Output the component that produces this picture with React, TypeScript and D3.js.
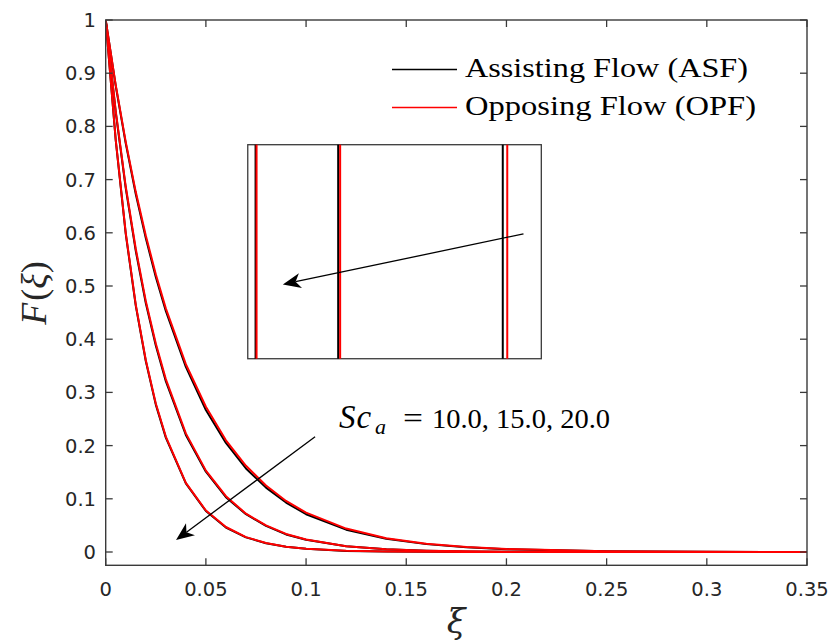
import React from "react";
import * as d3 from "d3";

const xiGrid = [0, 0.005, 0.01, 0.015, 0.02, 0.025, 0.03, 0.04, 0.05, 0.06, 0.07, 0.08, 0.09, 0.1, 0.12, 0.14, 0.16, 0.18, 0.2, 0.25, 0.3, 0.35];

// Sc_a = 10.0
const opf10 = [1, 0.878, 0.771, 0.677, 0.595, 0.522, 0.458, 0.353, 0.273, 0.21, 0.162, 0.125, 0.096, 0.074, 0.044, 0.026, 0.0156, 0.0093, 0.0055, 0.0015, 0.0004, 0.0001];
const asf10 = [1, 0.876, 0.768, 0.673, 0.59, 0.517, 0.453, 0.348, 0.267, 0.205, 0.157, 0.121, 0.093, 0.071, 0.042, 0.025, 0.0148, 0.0088, 0.0052, 0.0014, 0.0004, 0.0001];
// Sc_a = 15.0
const opf15 = [1, 0.829, 0.687, 0.57, 0.472, 0.392, 0.325, 0.223, 0.153, 0.105, 0.072, 0.05, 0.034, 0.0235, 0.011, 0.0052, 0.0025, 0.0012, 0.0006, 0.0001, 0, 0];
const asf15 = [1, 0.827, 0.684, 0.566, 0.468, 0.388, 0.321, 0.22, 0.151, 0.103, 0.071, 0.049, 0.033, 0.023, 0.0107, 0.005, 0.0024, 0.0011, 0.0005, 0.0001, 0, 0];
// Sc_a = 20.0
const opf20 = [1, 0.775, 0.6, 0.465, 0.361, 0.279, 0.217, 0.13, 0.078, 0.047, 0.028, 0.017, 0.01, 0.006, 0.0022, 0.0008, 0.0003, 0.0001, 0, 0, 0, 0];
const asf20 = [1, 0.774, 0.598, 0.463, 0.359, 0.277, 0.215, 0.129, 0.077, 0.046, 0.0275, 0.0166, 0.0098, 0.0059, 0.0021, 0.0008, 0.0003, 0.0001, 0, 0, 0, 0];

const xTicks = [0, 0.05, 0.1, 0.15, 0.2, 0.25, 0.3, 0.35];
const xTickLabels = ["0", "0.05", "0.1", "0.15", "0.2", "0.25", "0.3", "0.35"];
const yTicks = [0, 0.1, 0.2, 0.3, 0.4, 0.5, 0.6, 0.7, 0.8, 0.9, 1];
const yTickLabels = ["0", "0.1", "0.2", "0.3", "0.4", "0.5", "0.6", "0.7", "0.8", "0.9", "1"];

const legendLabels = ["Assisting Flow (ASF)", "Opposing Flow (OPF)"];
const scValuesLabel = "10.0, 15.0, 20.0";

// inset (zoomed view) positions, normalised 0..1 across inset width
const insetASF = [0.0266, 0.308, 0.8687];
const insetOPF = [0.03, 0.3147, 0.884];
const insetBox = { x0: 0.0709, x1: 0.2174, y0: 0.3633, y1: 0.7656 };

// annotation arrows in data units [from, to]
const arrowSc = [[0.1045, 0.2167], [0.0351, 0.0226]];
const arrowInset = [[0.2085, 0.598], [0.0884, 0.503]];

const axisColor = "#3a3a3a";

function Arrow({ x1, y1, x2, y2 }: { x1: number; y1: number; x2: number; y2: number }) {
  const ang = Math.atan2(y2 - y1, x2 - x1);
  const L = 18, W = 7.5, back = 13;
  const c = Math.cos(ang), s = Math.sin(ang);
  const pt = (a: number, b: number) => [x2 - a * c - b * -s, y2 - a * s - b * c];
  const p1 = pt(L, W);
  const p2 = pt(back, 0);
  const p3 = pt(L, -W);
  const lineEnd = pt(back, 0);
  return (
    <g>
      <line x1={x1} y1={y1} x2={lineEnd[0]} y2={lineEnd[1]} stroke="#000" strokeWidth={1.3} />
      <path d={`M${x2},${y2}L${p1[0]},${p1[1]}L${p2[0]},${p2[1]}L${p3[0]},${p3[1]}Z`} fill="#000" />
    </g>
  );
}

export default function App() {
  const W = 832, H = 644;
  const x = d3.scaleLinear().domain([0, 0.35]).range([105.7, 807]);
  const y = d3.scaleLinear().domain([-0.025, 1]).range([565.3, 20]);
  const line = d3
    .line<[number, number]>()
    .x((d) => x(d[0]))
    .y((d) => y(d[1]));
  const mk = (vals: number[]) => line(xiGrid.map((g, i) => [g, vals[i]] as [number, number])) || "";

  const series = [
    { v: asf10, c: "#000" },
    { v: asf15, c: "#000" },
    { v: asf20, c: "#000" },
    { v: opf10, c: "#ff0000" },
    { v: opf15, c: "#ff0000" },
    { v: opf20, c: "#ff0000" },
  ];

  const bx0 = x(insetBox.x0), bx1 = x(insetBox.x1), by0 = y(insetBox.y1), by1 = y(insetBox.y0);
  const ix = d3.scaleLinear().domain([0, 1]).range([bx0, bx1]);

  const tickLen = 7;
  const left = x(0), right = x(0.35), top = y(1), bottom = y(-0.025);

  return (
    <svg width={W} height={H} style={{ position: "absolute", left: 0, top: 0, background: "#fff" }}>
      <defs>
        <clipPath id="plotclip">
          <rect x={left} y={top} width={right - left} height={bottom - top} />
        </clipPath>
      </defs>
      <rect x={0} y={0} width={W} height={H} fill="#fff" />
      <g clipPath="url(#plotclip)">
        {series.map((s, i) => (
          <path key={i} d={mk(s.v)} fill="none" stroke={s.c} strokeWidth={2} strokeLinejoin="round" />
        ))}
      </g>
      {/* axes box */}
      <rect x={left} y={top} width={right - left} height={bottom - top} fill="none" stroke={axisColor} strokeWidth={1.4} />
      {xTicks.map((t, i) => (
        <g key={"xt" + i}>
          <line x1={x(t)} x2={x(t)} y1={bottom} y2={bottom - tickLen} stroke={axisColor} strokeWidth={1.3} />
          <line x1={x(t)} x2={x(t)} y1={top} y2={top + tickLen} stroke={axisColor} strokeWidth={1.3} />
          <text x={x(t)} y={596} textAnchor="middle" fontFamily="DejaVu Sans" fontSize={19.5} fill="#262626">
            {xTickLabels[i]}
          </text>
        </g>
      ))}
      {yTicks.map((t, i) => (
        <g key={"yt" + i}>
          <line x1={left} x2={left + tickLen} y1={y(t)} y2={y(t)} stroke={axisColor} strokeWidth={1.3} />
          <line x1={right} x2={right - tickLen} y1={y(t)} y2={y(t)} stroke={axisColor} strokeWidth={1.3} />
          <text x={96} y={y(t) + 7} textAnchor="end" fontFamily="DejaVu Sans" fontSize={19.5} fill="#262626">
            {yTickLabels[i]}
          </text>
        </g>
      ))}
      {/* axis labels */}
      <text x={456} y={633} textAnchor="middle" fontFamily="DejaVu Serif" fontStyle="italic" fontSize={34} fill="#262626">
        ξ
      </text>
      <text
        transform="translate(46,293) rotate(-90)"
        textAnchor="middle"
        fontFamily="Liberation Serif"
        fontSize={36}
        fill="#262626"
      >
        <tspan fontStyle="italic">F</tspan>
        <tspan dx={2}>(</tspan>
        <tspan fontStyle="italic">ξ</tspan>
        <tspan>)</tspan>
      </text>
      {/* legend */}
      <line x1={392} x2={457} y1={69.5} y2={69.5} stroke="#000" strokeWidth={1.5} />
      <line x1={392} x2={457} y1={107.5} y2={107.5} stroke="#ff0000" strokeWidth={1.5} />
      <text x={465} y={77} fontFamily="Liberation Serif" fontSize={28} fill="#000" textLength={283} lengthAdjust="spacingAndGlyphs">
        {legendLabels[0]}
      </text>
      <text x={465} y={115} fontFamily="Liberation Serif" fontSize={28} fill="#000" textLength={291} lengthAdjust="spacingAndGlyphs">
        {legendLabels[1]}
      </text>
      {/* inset */}
      <rect x={bx0} y={by0} width={bx1 - bx0} height={by1 - by0} fill="#fff" stroke={axisColor} strokeWidth={1.3} />
      {insetASF.map((p, i) => (
        <line key={"ia" + i} x1={ix(p)} x2={ix(p)} y1={by0} y2={by1} stroke="#000" strokeWidth={2} />
      ))}
      {insetOPF.map((p, i) => (
        <line key={"io" + i} x1={ix(p)} x2={ix(p)} y1={by0} y2={by1} stroke="#ff0000" strokeWidth={2} />
      ))}
      <Arrow x1={x(arrowInset[0][0])} y1={y(arrowInset[0][1])} x2={x(arrowInset[1][0])} y2={y(arrowInset[1][1])} />
      {/* Sc annotation */}
      <Arrow x1={x(arrowSc[0][0])} y1={y(arrowSc[0][1])} x2={x(arrowSc[1][0])} y2={y(arrowSc[1][1])} />
      <text x={339} y={428} fontFamily="Liberation Serif" fontSize={33} fontStyle="italic" fill="#000" letterSpacing={1}>
        Sc
      </text>
      <text x={375} y={434} fontFamily="Liberation Serif" fontSize={22} fontStyle="italic" fill="#000">
        a
      </text>
      <text x={403} y={428} fontFamily="Liberation Serif" fontSize={30} fill="#000" textLength={20} lengthAdjust="spacingAndGlyphs">
        =
      </text>
      <text x={432} y={428} fontFamily="Liberation Serif" fontSize={28} fill="#000" textLength={178} lengthAdjust="spacingAndGlyphs">
        {scValuesLabel}
      </text>
    </svg>
  );
}
